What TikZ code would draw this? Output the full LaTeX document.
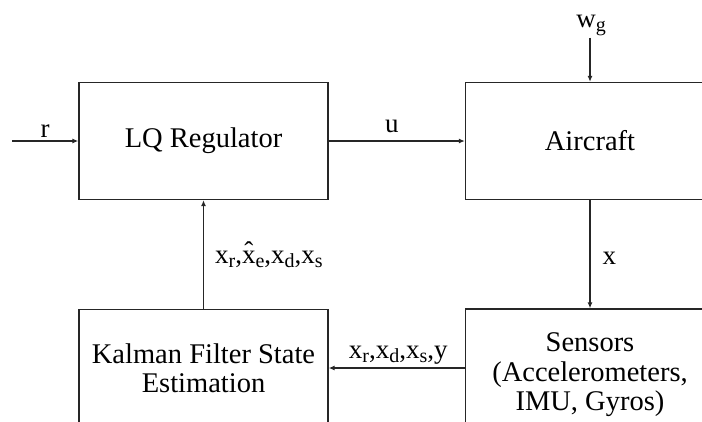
\documentclass[tikz,border=0pt]{standalone}
\usepackage{fontspec}
\setmainfont{Liberation Serif}
\usetikzlibrary{arrows.meta}

% indice un peu abaisse
\newcommand{\ind}[1]{\raisebox{-4pt}{\fontsize{20}{20}\selectfont #1}}
% x chapeau, accent bien au-dessus
\newcommand{\xchap}{\rlap{\makebox[0.5em][c]{\raisebox{3pt}{\char"02C6}}}x}

\begin{document}
\begin{tikzpicture}[x=1pt, y=-1pt,
  bloc/.style={draw=black!85, line width=1.3pt, minimum width=249pt, minimum height=117pt,
    align=center, font=\fontsize{28.5}{29.5}\selectfont},
  fleche/.style={draw=black!85, line width=1.2pt, -{Latex[length=6pt,width=5pt]}},
  etiq/.style={font=\fontsize{27}{30}\selectfont, inner sep=2pt}]

\useasboundingbox (0,0) rectangle (702,421);
\clip (0,0) rectangle (702,421);

% Blocs
\node[bloc] (lq) at (203.5, 141) {LQ Regulator};
\node[bloc] (avion) at (590, 141) {Aircraft};
\node[bloc] (kalman) at (203.5, 368) {Kalman Filter State\\Estimation};
\node[bloc, minimum height=132pt] (capteurs) at (590, 375) {Sensors\\(Accelerometers,\\IMU, Gyros)};

% Entrees
\coordinate (ref) at (12, 141);
\node[etiq, anchor=base] (wg) at (591, 27) {w\ind{g}};

% Liaisons
\draw[fleche] (ref) -- node[etiq, anchor=base, yshift=4pt] {r} (lq.west);
\draw[fleche] (lq.east) -- node[etiq, anchor=base, xshift=-5pt, yshift=9pt] {u} (avion.west);
\draw[fleche] (wg.south -| avion.north) -- (avion.north);
\draw[fleche] (avion.south) -- node[etiq, anchor=base west, xshift=10pt, yshift=-10.5pt] {x} (capteurs.north);
\draw[fleche] (capteurs.west |- kalman.east) -- node[etiq, anchor=base, xshift=1.5pt, yshift=10pt]
  {x\ind{r},x\ind{d},x\ind{s},y} (kalman.east);
\draw[fleche] (kalman.north) -- node[etiq, anchor=base west, xshift=9pt, yshift=-8.5pt]
  {x\ind{r},\xchap\ind{e},x\ind{d},x\ind{s}} (lq.south);

\end{tikzpicture}
\end{document}
